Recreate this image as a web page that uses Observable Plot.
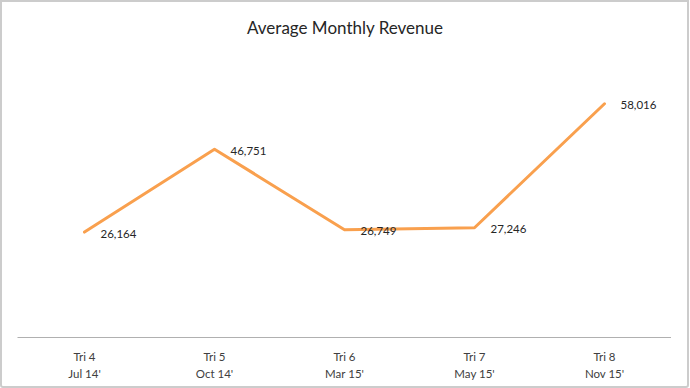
<!DOCTYPE html>
<html>
<head>
<meta charset="utf-8">
<script src="https://cdn.jsdelivr.net/npm/d3@7"></script>
<script src="https://cdn.jsdelivr.net/npm/@observablehq/plot@0.6"></script>
<style>
  html, body { margin: 0; padding: 0; background: #fff; }
  #frame {
    position: relative; width: 689px; height: 388px; box-sizing: border-box;
    border: 2px solid #cccccc; border-radius: 0 0 3px 3px; overflow: hidden;
    font-family: Lato, "Open Sans", sans-serif;
  }
  #title {
    position: absolute; left: 0; top: 0; width: 686px; height: 45px;
    text-align: center; font-size: 17px; color: #262626; line-height: 1;
    padding-top: 17px; box-sizing: border-box;
  }
  #chart { position: absolute; left: -2px; top: 43px; width: 690px; }
  #chart svg { max-width: none !important; }
</style>
</head>
<body>
<div id="frame">
  <div id="title">Average Monthly Revenue</div>
  <div id="chart"></div>
</div>
<script>
const categories = ["Tri 4", "Tri 5", "Tri 6", "Tri 7", "Tri 8"];
const periods = ["Jul 14'", "Oct 14'", "Mar 15'", "May 15'", "Nov 15'"];
const revenue = [26164, 46751, 26749, 27246, 58016];

const data = categories.map((c, i) => ({cat: c, period: periods[i], value: revenue[i]}));
const labelOf = Object.fromEntries(categories.map((c, i) => [c, c + "\n" + periods[i]]));

const chart = Plot.plot({
  width: 690,
  height: 340,
  marginLeft: 17.5,
  marginRight: 19,
  marginTop: 10,
  marginBottom: 48,
  style: {fontFamily: "Lato, 'Open Sans', sans-serif", background: "transparent", maxWidth: "none"},
  x: {type: "point", domain: categories, padding: 0.5, axis: null},
  y: {domain: [0, 70000], axis: null},
  marks: [
    Plot.ruleY([0], {stroke: "#b0b0b0", strokeWidth: 1.2}),
    Plot.axisX({
      tickSize: 0, tickPadding: 11, fontSize: 11.5, lineHeight: 1.5,
      fill: "#404040", label: null, tickFormat: d => labelOf[d]
    }),
    Plot.line(data, {x: "cat", y: "value", stroke: "#F9A04E", strokeWidth: 3}),
    Plot.text(data, {
      x: "cat", y: "value", text: d => d3.format(",")(d.value),
      textAnchor: "start", dx: 16, dy: 2, fontSize: 11.5, fill: "#262626"
    })
  ]
});
document.getElementById("chart").appendChild(chart);
</script>
</body>
</html>
